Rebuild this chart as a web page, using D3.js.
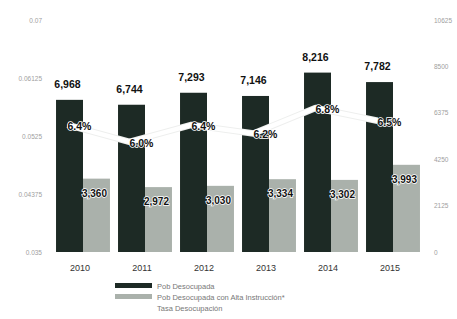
<!DOCTYPE html>
<html lang="es">
<head>
<meta charset="utf-8">
<title>Población desocupada</title>
<script src="https://cdn.jsdelivr.net/npm/d3@7"></script>
<style>
  body { margin: 0; background: #fff; }
  text { font-family: "Liberation Sans", Arial, sans-serif; }
</style>
</head>
<body>
<script>
// data
var years = ["2010", "2011", "2012", "2013", "2014", "2015"];
var pobDesocupada = [6968, 6744, 7293, 7146, 8216, 7782];
var pobAltaInstruccion = [3360, 2972, 3030, 3334, 3302, 3993];
var tasaDesocupacion = [0.064, 0.060, 0.064, 0.062, 0.068, 0.065];
var leftTicks = [0.035, 0.04375, 0.0525, 0.06125, 0.07];
var leftTickLabels = ["0.035", "0.04375", "0.0525", "0.06125", "0.07"];
var rightTicks = [0, 2125, 4250, 6375, 8500, 10625];
var seriesNames = ["Pob Desocupada", "Pob Desocupada con Alta Instrucción*", "Tasa Desocupación"];

var W = 457, H = 319;
var plotTop = 20, plotBottom = 252, plotLeft = 52, plotRight = 424;

var svg = d3.select("body").append("svg")
    .attr("width", W)
    .attr("height", H);

var x = d3.scaleBand().domain(years).range([plotLeft, plotRight]).paddingInner(0.13).paddingOuter(0.065);
var yR = d3.scaleLinear().domain([0, 10625]).range([plotBottom, plotTop]);
var yL = d3.scaleLinear().domain([0.035, 0.07]).range([plotBottom, plotTop]);
// the rate line does not follow the left tick labels in the original
var yRate = d3.scaleLinear().domain([0.0341, 0.0887]).range([plotBottom, plotTop]);

var bw = x.bandwidth() / 2;

// axes (text only)
var axL = svg.append("g").attr("transform", "translate(45,0)")
    .call(d3.axisLeft(yL).tickValues(leftTicks).tickSize(0).tickFormat(function (d, i) { return leftTickLabels[i]; }));
var axR = svg.append("g").attr("transform", "translate(431,0)")
    .call(d3.axisRight(yR).tickValues(rightTicks).tickSize(0).tickFormat(d3.format("d")));
[axL, axR].forEach(function (a) {
    a.select(".domain").remove();
    a.selectAll("text").attr("fill", "#a0a0a0").style("font-size", "6.5px")
        .style("font-family", "'Liberation Sans', Arial, sans-serif");
});

// bars
svg.selectAll("rect.dark").data(pobDesocupada).enter().append("rect")
    .attr("class", "dark")
    .attr("x", function (d, i) { return x(years[i]); })
    .attr("y", function (d) { return yR(d); })
    .attr("width", bw)
    .attr("height", function (d) { return plotBottom - yR(d); })
    .attr("fill", "#1d2a25");

svg.selectAll("rect.light").data(pobAltaInstruccion).enter().append("rect")
    .attr("class", "light")
    .attr("x", function (d, i) { return x(years[i]) + bw; })
    .attr("y", function (d) { return yR(d); })
    .attr("width", bw)
    .attr("height", function (d) { return plotBottom - yR(d); })
    .attr("fill", "#aab1ab");

// value labels
var fmt = d3.format(",");
svg.selectAll("text.vdark").data(pobDesocupada).enter().append("text")
    .attr("x", function (d, i) { return x(years[i]) + bw / 2 - 2; })
    .attr("y", function (d) { return yR(d) - 12; })
    .attr("text-anchor", "middle")
    .style("font-size", "10.5px").style("font-weight", "bold")
    .attr("fill", "#111")
    .text(function (d) { return fmt(d); });

svg.selectAll("text.vlight").data(pobAltaInstruccion).enter().append("text")
    .attr("x", function (d, i) { return x(years[i]) + bw * 1.5 - 2; })
    .attr("y", function (d) { return yR(d) + 18; })
    .attr("text-anchor", "middle")
    .style("font-size", "10px").style("font-weight", "bold")
    .attr("fill", "#111")
    .attr("stroke", "#fff").attr("stroke-width", 1.5).attr("paint-order", "stroke")
    .text(function (d) { return fmt(d); });

// rate line
var line = d3.line()
    .x(function (d, i) { return x(years[i]) + bw / 2 - 2; })
    .y(function (d) { return yRate(d); });

svg.append("path").datum(tasaDesocupacion)
    .attr("d", line).attr("fill", "none")
    .attr("stroke", "#eeefee").attr("stroke-width", 6.5).attr("stroke-linejoin", "round");
svg.append("path").datum(tasaDesocupacion)
    .attr("d", line).attr("fill", "none")
    .attr("stroke", "#fff").attr("stroke-width", 4.5).attr("stroke-linejoin", "round");

svg.selectAll("text.rate").data(tasaDesocupacion).enter().append("text")
    .attr("x", function (d, i) { return x(years[i]) + bw / 2 - 2; })
    .attr("y", function (d) { return yRate(d) + 5; })
    .style("font-size", "10.5px").style("font-weight", "bold")
    .attr("fill", "#111")
    .attr("stroke", "#fff").attr("stroke-width", 1.5).attr("paint-order", "stroke")
    .text(function (d) { return d3.format(".1%")(d); });

// year labels
svg.selectAll("text.year").data(years).enter().append("text")
    .attr("x", function (d) { return x(d) + bw - 3; })
    .attr("y", 271)
    .attr("text-anchor", "middle")
    .style("font-size", "9px")
    .attr("fill", "#333")
    .text(function (d) { return d; });

// legend
var lg = svg.append("g").attr("transform", "translate(115,283)");
var swatch = ["#1d2a25", "#aab1ab", "none"];
seriesNames.forEach(function (s, i) {
    if (swatch[i] !== "none") {
        lg.append("rect").attr("x", 0).attr("y", i * 11).attr("width", 37).attr("height", 5).attr("fill", swatch[i]);
    }
    lg.append("text").attr("x", 42).attr("y", i * 11 + 5.5)
        .style("font-size", "7.5px").attr("fill", "#777")
        .text(s);
});
</script>
</body>
</html>
